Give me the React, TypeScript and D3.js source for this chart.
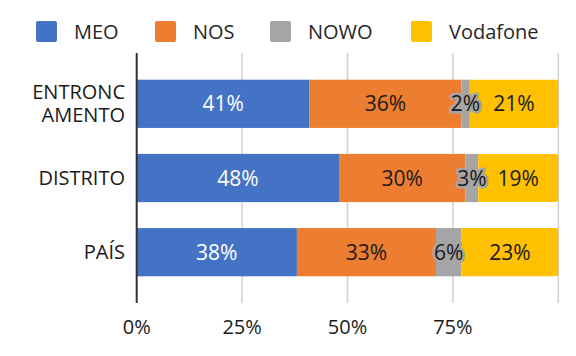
import React from "react";
import * as d3 from "d3";

const categories = ["ENTRONCAMENTO", "DISTRITO", "PAÍS"];
const categoryLines = [["ENTRONC", "AMENTO"], ["DISTRITO"], ["PAÍS"]];
const seriesNames = ["MEO", "NOS", "NOWO", "Vodafone"];
const seriesColors = ["#4472C4", "#ED7D31", "#A5A5A5", "#FFC000"];
const labelColors = ["#FFFFFF", "#1a1a1a", "#1a1a1a", "#1a1a1a"];
const meo = [41, 48, 38];
const nos = [36, 30, 33];
const nowo = [2, 3, 6];
const vodafone = [21, 19, 23];
const xTicks = [0, 0.25, 0.5, 0.75];

const W = 576;
const H = 356;
const FONT = "'Open Sans', 'Noto Sans', sans-serif";

export default function App() {
  const seriesValues = [meo, nos, nowo, vodafone];
  const rows = categories.map((c, i) => {
    const r: any = { cat: c };
    seriesNames.forEach((s, j) => (r[s] = seriesValues[j][i] / 100));
    return r;
  });
  const stack = d3.stack().keys(seriesNames)(rows as any);

  const x = d3.scaleLinear().domain([0, 1]).range([136.7, 558.3]);
  const y = d3
    .scaleBand()
    .domain(categories)
    .range([53, 303])
    .paddingInner(0.35)
    .paddingOuter(0.36);

  const legendX = [36, 155, 270, 411];

  return (
    <svg
      width={W}
      height={H}
      style={{ position: "absolute", left: 0, top: 0, background: "#fff" }}
      fontFamily={FONT}
    >
      {/* legend */}
      {seriesNames.map((s, i) => (
        <g key={s} transform={`translate(${legendX[i]},21)`}>
          <rect width={21} height={21} rx={2} fill={seriesColors[i]} />
          <text x={38} y={10.5} dy="0.35em" fontSize={20} fill="#262626">
            {s}
          </text>
        </g>
      ))}
      {/* gridlines */}
      {[0.25, 0.5, 0.75, 1].map((t) => (
        <line
          key={t}
          x1={x(t)}
          x2={x(t)}
          y1={53}
          y2={303}
          stroke="#D0D0D0"
          strokeWidth={1.5}
        />
      ))}
      {/* bars */}
      {stack.map((layer, si) =>
        layer.map((d: any, ci) => {
          const x0 = x(d[0]);
          const x1 = x(d[1]);
          const yy = y(categories[ci])!;
          const h = y.bandwidth();
          const isLast = si === seriesNames.length - 1;
          return (
            <g key={`${si}-${ci}`}>
              {isLast ? (
                <path
                  d={`M${x0},${yy}H${x1 - 3}Q${x1},${yy} ${x1},${yy + 3}V${
                    yy + h - 3
                  }Q${x1},${yy + h} ${x1 - 3},${yy + h}H${x0}Z`}
                  fill={seriesColors[si]}
                />
              ) : (
                <rect
                  x={x0}
                  y={yy}
                  width={x1 - x0}
                  height={h}
                  fill={seriesColors[si]}
                />
              )}
            </g>
          );
        })
      )}
      {/* data labels */}
      {stack.map((layer, si) =>
        layer.map((d: any, ci) => {
          const cx = (x(d[0]) + x(d[1])) / 2;
          const cy = y(categories[ci])! + y.bandwidth() / 2;
          const v = seriesValues[si][ci];
          return (
            <text
              key={`l${si}-${ci}`}
              x={cx}
              y={cy}
              dy="0.36em"
              textAnchor="middle"
              fontSize={21}
              fill={labelColors[si]}
              stroke={si === 2 ? seriesColors[2] : "none"}
              strokeWidth={si === 2 ? 5 : 0}
              strokeLinejoin="round"
              style={{ paintOrder: "stroke" }}
            >
              {`${v}%`}
            </text>
          );
        })
      )}
      {/* axis line */}
      <line x1={x(0)} x2={x(0)} y1={53} y2={303} stroke="#333" strokeWidth={2} />
      {/* category labels */}
      {categoryLines.map((lines, ci) => {
        const cy = y(categories[ci])! + y.bandwidth() / 2;
        const lh = 23;
        return lines.map((ln, k) => (
          <text
            key={`${categories[ci]}-${k}`}
            x={125}
            y={cy + (k - (lines.length - 1) / 2) * lh}
            dy="0.35em"
            textAnchor="end"
            fontSize={20}
            fill="#1a1a1a"
          >
            {ln}
          </text>
        ));
      })}
      {/* x tick labels */}
      {xTicks.map((t) => (
        <text
          key={t}
          x={x(t)}
          y={327}
          dy="0.35em"
          textAnchor="middle"
          fontSize={20}
          fill="#1a1a1a"
        >
          {d3.format(".0%")(t)}
        </text>
      ))}
    </svg>
  );
}
